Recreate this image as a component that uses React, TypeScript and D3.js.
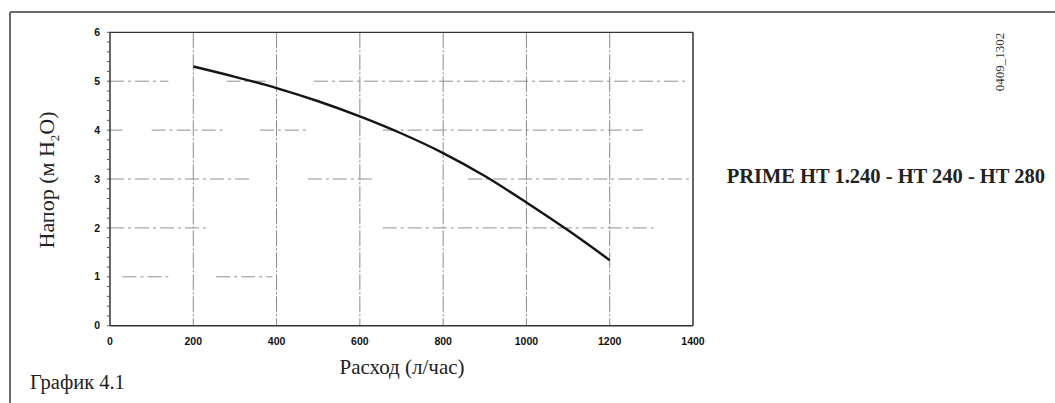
import React from "react";
import * as d3 from "d3";

const flow = [200, 300, 400, 500, 600, 700, 800, 900, 1000, 1100, 1200];
const head = [5.3, 5.09, 4.86, 4.59, 4.28, 3.93, 3.53, 3.06, 2.52, 1.95, 1.34];
const xTicks = [0, 200, 400, 600, 800, 1000, 1200, 1400];
const yTicks = [0, 1, 2, 3, 4, 5, 6];
const vGrid = [200, 400, 600, 800, 1000, 1200];
// broken horizontal grid segments [level, fromX, toX]
const hGridSegments: [number, number, number][] = [
  [5, 0, 140], [5, 280, 385], [5, 490, 1390],
  [4, 0, 30], [4, 100, 270], [4, 360, 480], [4, 655, 1280],
  [3, 0, 340], [3, 475, 635], [3, 860, 1390],
  [2, 0, 240], [2, 655, 1310],
  [1, 30, 140], [1, 255, 390],
];

export default function App() {
  const W = 1055, H = 403;
  const x = d3.scaleLinear().domain([0, 1400]).range([110, 693]);
  const y = d3.scaleLinear().domain([0, 6]).range([325.7, 32.3]);
  const line = d3
    .line<number>()
    .x((_, i) => x(flow[i]))
    .y((d) => y(d))
    .curve(d3.curveCatmullRom.alpha(0.5));
  const minor = d3.range(0, 6.001, 0.2);
  return (
    <svg width={W} height={H} style={{ position: "absolute", left: 0, top: 0 }}>
      <rect x={0} y={0} width={W} height={H} fill="#fff" />
      {/* outer frame */}
      <line x1={10} y1={12} x2={W} y2={12} stroke="#6a6a6a" strokeWidth={2} />
      <line x1={10} y1={12} x2={10} y2={H} stroke="#6a6a6a" strokeWidth={2} />
      {/* vertical grid */}
      {vGrid.map((v) => (
        <line key={"v" + v} x1={x(v)} x2={x(v)} y1={y(6)} y2={y(0)}
          stroke="#8a8a8a" strokeWidth={1} strokeDasharray="16,2,2,2" />
      ))}
      {/* horizontal grid */}
      {hGridSegments.map(([lv, a, b], i) => (
        <line key={"h" + i} x1={x(a)} x2={x(b)} y1={y(lv)} y2={y(lv)}
          stroke="#909090" strokeWidth={1} strokeDasharray="14,4,3,4" />
      ))}
      {/* plot frame */}
      <line x1={x(0)} x2={x(1400)} y1={y(6)} y2={y(6)} stroke="#333" strokeWidth={1.2} />
      <line x1={x(1400)} x2={x(1400)} y1={y(6)} y2={y(0)} stroke="#333" strokeWidth={1.5} />
      <line x1={x(0)} x2={x(1400)} y1={y(0)} y2={y(0)} stroke="#333" strokeWidth={1.5} />
      <line x1={x(0)} x2={x(0)} y1={y(6)} y2={y(0)} stroke="#333" strokeWidth={1.5} />
      {/* minor y ticks */}
      {minor.map((m, i) => (
        <line key={"m" + i} x1={x(0) - 3} x2={x(0)} y1={y(m)} y2={y(m)} stroke="#555" strokeWidth={1} />
      ))}
      {/* curve */}
      <path d={line(head) || ""} fill="none" stroke="#151515" strokeWidth={2.4} />
      {/* tick labels */}
      {yTicks.map((t) => (
        <text key={"yt" + t} x={100} y={y(t)} dy="0.35em" textAnchor="end"
          fontFamily="Liberation Sans, Arial, sans-serif" fontWeight="bold" fontSize={10.5} fill="#111">
          {t}
        </text>
      ))}
      {xTicks.map((t) => (
        <text key={"xt" + t} x={x(t)} y={341} dy="0.35em" textAnchor="middle"
          fontFamily="Liberation Sans, Arial, sans-serif" fontWeight="bold" fontSize={10.5} fill="#111">
          {t}
        </text>
      ))}
      {/* axis titles */}
      <text transform="translate(54,180) rotate(-90)" textAnchor="middle"
        fontFamily="Liberation Serif, serif" fontSize={22} fill="#222">
        Напор (м H<tspan fontSize={13} dy={5}>2</tspan><tspan dy={-5}>O)</tspan>
      </text>
      <text x={402} y={374} textAnchor="middle" fontFamily="Liberation Serif, serif" fontSize={21} fill="#222">
        Расход (л/час)
      </text>
      <text x={30} y={389} fontFamily="Liberation Serif, serif" fontSize={20.5} fill="#222">
        График 4.1
      </text>
      <text x={1045} y={183} textAnchor="end" fontFamily="Liberation Serif, serif" fontWeight="bold" fontSize={20.5} fill="#222">
        PRIME HT 1.240 - HT 240 - HT 280
      </text>
      <text transform="translate(1004,62) rotate(-90)" textAnchor="middle"
        fontFamily="Liberation Serif, serif" fontSize={13} fill="#333">
        0409_1302
      </text>
    </svg>
  );
}
